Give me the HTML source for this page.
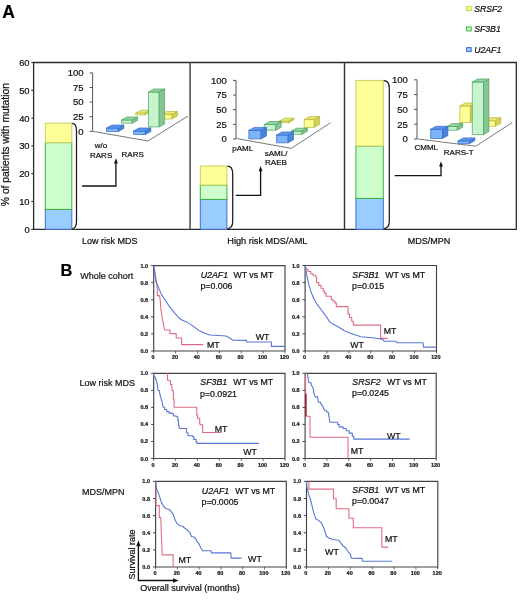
<!DOCTYPE html>
<html><head><meta charset="utf-8"><style>
html,body{margin:0;padding:0;background:#fff;}
svg text{stroke:#111;stroke-width:0.22px;}
svg{display:block;font-family:"Liberation Sans", sans-serif;filter:blur(0.3px);}
</style></head><body>
<svg width="520" height="616" viewBox="0 0 520 616">
<rect width="520" height="616" fill="#fff"/>
<text x="60.4" y="276.2" font-size="16.4" font-weight="bold">B</text>
<text x="80.3" y="279.0" font-size="9" fill="#222">Whole cohort</text>
<text x="79.6" y="385.5" font-size="9" fill="#222">Low risk MDS</text>
<text x="82.0" y="495.0" font-size="9" fill="#222">MDS/MPN</text>
<path d="M153.7 265.6 H285.0 V351.0 H153.7 Z" fill="none" stroke="#444" stroke-width="1.15"/>
<line x1="151.1" y1="351.00" x2="153.7" y2="351.00" stroke="#333" stroke-width="0.9"/>
<text x="148.2" y="353.00" font-size="5.5" font-weight="bold" text-anchor="end" fill="#222">0.0</text>
<line x1="151.1" y1="333.92" x2="153.7" y2="333.92" stroke="#333" stroke-width="0.9"/>
<text x="148.2" y="335.92" font-size="5.5" font-weight="bold" text-anchor="end" fill="#222">0.2</text>
<line x1="151.1" y1="316.84" x2="153.7" y2="316.84" stroke="#333" stroke-width="0.9"/>
<text x="148.2" y="318.84" font-size="5.5" font-weight="bold" text-anchor="end" fill="#222">0.4</text>
<line x1="151.1" y1="299.76" x2="153.7" y2="299.76" stroke="#333" stroke-width="0.9"/>
<text x="148.2" y="301.76" font-size="5.5" font-weight="bold" text-anchor="end" fill="#222">0.6</text>
<line x1="151.1" y1="282.68" x2="153.7" y2="282.68" stroke="#333" stroke-width="0.9"/>
<text x="148.2" y="284.68" font-size="5.5" font-weight="bold" text-anchor="end" fill="#222">0.8</text>
<line x1="151.1" y1="265.60" x2="153.7" y2="265.60" stroke="#333" stroke-width="0.9"/>
<text x="148.2" y="267.60" font-size="5.5" font-weight="bold" text-anchor="end" fill="#222">1.0</text>
<line x1="153.70" y1="351.0" x2="153.70" y2="353.4" stroke="#444" stroke-width="0.8"/>
<text x="153.10" y="358.70" font-size="5.5" font-weight="bold" text-anchor="middle" fill="#222">0</text>
<line x1="175.58" y1="351.0" x2="175.58" y2="353.4" stroke="#444" stroke-width="0.8"/>
<text x="174.98" y="358.70" font-size="5.5" font-weight="bold" text-anchor="middle" fill="#222">20</text>
<line x1="197.47" y1="351.0" x2="197.47" y2="353.4" stroke="#444" stroke-width="0.8"/>
<text x="196.87" y="358.70" font-size="5.5" font-weight="bold" text-anchor="middle" fill="#222">40</text>
<line x1="219.35" y1="351.0" x2="219.35" y2="353.4" stroke="#444" stroke-width="0.8"/>
<text x="218.75" y="358.70" font-size="5.5" font-weight="bold" text-anchor="middle" fill="#222">60</text>
<line x1="241.23" y1="351.0" x2="241.23" y2="353.4" stroke="#444" stroke-width="0.8"/>
<text x="240.63" y="358.70" font-size="5.5" font-weight="bold" text-anchor="middle" fill="#222">80</text>
<line x1="263.12" y1="351.0" x2="263.12" y2="353.4" stroke="#444" stroke-width="0.8"/>
<text x="262.52" y="358.70" font-size="5.5" font-weight="bold" text-anchor="middle" fill="#222">100</text>
<line x1="285.00" y1="351.0" x2="285.00" y2="353.4" stroke="#444" stroke-width="0.8"/>
<text x="284.40" y="358.70" font-size="5.5" font-weight="bold" text-anchor="middle" fill="#222">120</text>
<path d="M154.20 266.50 L156.50 283.00 L157.30 287.60 L157.30 295.60 L159.50 295.60 L160.20 300.00 L161.00 310.20 L162.40 319.00 L163.90 326.30 L164.60 330.00 L170.00 330.00 L170.00 333.60 L176.20 333.60 L176.20 338.00 L181.60 338.00 L181.60 344.60 L203.30 344.60" fill="none" stroke="#e06c84" stroke-width="1.1" stroke-linejoin="round"/>
<path d="M153.70 265.60 L155.80 281.00 L158.80 288.30 L161.70 294.90 L164.60 299.30 L169.00 305.80 L174.10 312.40 L178.50 317.50 L181.40 319.70 L186.50 321.90 L192.40 325.60 L198.20 330.00 L204.10 332.90 L208.50 334.60 L210.40 335.00 L226.00 336.00 L229.40 337.70 L232.90 340.20 L246.30 340.40 L246.50 342.00 L271.40 342.00 L271.40 346.40 L285.00 346.40" fill="none" stroke="#5877d6" stroke-width="1.1" stroke-linejoin="round"/>
<text x="200.7" y="278.0" font-size="8.8" font-style="italic" fill="#111">U2AF1</text>
<text x="233.4" y="278.0" font-size="8.8" fill="#111">WT vs MT</text>
<text x="200.39999999999998" y="288.8" font-size="8.8" fill="#111">p=0.006</text>
<text x="255.7" y="340.2" font-size="8.8" fill="#111">WT</text>
<text x="206.9" y="348.1" font-size="8.8" fill="#111">MT</text>
<path d="M305.1 265.5 H436.5 V351.0 H305.1 Z" fill="none" stroke="#444" stroke-width="1.15"/>
<line x1="302.5" y1="351.00" x2="305.1" y2="351.00" stroke="#333" stroke-width="0.9"/>
<text x="299.6" y="353.00" font-size="5.5" font-weight="bold" text-anchor="end" fill="#222">0.0</text>
<line x1="302.5" y1="333.90" x2="305.1" y2="333.90" stroke="#333" stroke-width="0.9"/>
<text x="299.6" y="335.90" font-size="5.5" font-weight="bold" text-anchor="end" fill="#222">0.2</text>
<line x1="302.5" y1="316.80" x2="305.1" y2="316.80" stroke="#333" stroke-width="0.9"/>
<text x="299.6" y="318.80" font-size="5.5" font-weight="bold" text-anchor="end" fill="#222">0.4</text>
<line x1="302.5" y1="299.70" x2="305.1" y2="299.70" stroke="#333" stroke-width="0.9"/>
<text x="299.6" y="301.70" font-size="5.5" font-weight="bold" text-anchor="end" fill="#222">0.6</text>
<line x1="302.5" y1="282.60" x2="305.1" y2="282.60" stroke="#333" stroke-width="0.9"/>
<text x="299.6" y="284.60" font-size="5.5" font-weight="bold" text-anchor="end" fill="#222">0.8</text>
<line x1="302.5" y1="265.50" x2="305.1" y2="265.50" stroke="#333" stroke-width="0.9"/>
<text x="299.6" y="267.50" font-size="5.5" font-weight="bold" text-anchor="end" fill="#222">1.0</text>
<line x1="305.10" y1="351.0" x2="305.10" y2="353.4" stroke="#444" stroke-width="0.8"/>
<text x="304.50" y="358.70" font-size="5.5" font-weight="bold" text-anchor="middle" fill="#222">0</text>
<line x1="327.00" y1="351.0" x2="327.00" y2="353.4" stroke="#444" stroke-width="0.8"/>
<text x="326.40" y="358.70" font-size="5.5" font-weight="bold" text-anchor="middle" fill="#222">20</text>
<line x1="348.90" y1="351.0" x2="348.90" y2="353.4" stroke="#444" stroke-width="0.8"/>
<text x="348.30" y="358.70" font-size="5.5" font-weight="bold" text-anchor="middle" fill="#222">40</text>
<line x1="370.80" y1="351.0" x2="370.80" y2="353.4" stroke="#444" stroke-width="0.8"/>
<text x="370.20" y="358.70" font-size="5.5" font-weight="bold" text-anchor="middle" fill="#222">60</text>
<line x1="392.70" y1="351.0" x2="392.70" y2="353.4" stroke="#444" stroke-width="0.8"/>
<text x="392.10" y="358.70" font-size="5.5" font-weight="bold" text-anchor="middle" fill="#222">80</text>
<line x1="414.60" y1="351.0" x2="414.60" y2="353.4" stroke="#444" stroke-width="0.8"/>
<text x="414.00" y="358.70" font-size="5.5" font-weight="bold" text-anchor="middle" fill="#222">100</text>
<line x1="436.50" y1="351.0" x2="436.50" y2="353.4" stroke="#444" stroke-width="0.8"/>
<text x="435.90" y="358.70" font-size="5.5" font-weight="bold" text-anchor="middle" fill="#222">120</text>
<path d="M305.30 265.60 L306.40 269.30 L308.00 269.30 L308.00 271.50 L310.80 271.50 L310.80 273.70 L313.00 273.70 L313.00 275.20 L315.90 275.20 L315.90 277.30 L316.60 277.30 L316.60 282.50 L318.80 282.50 L318.80 285.40 L321.00 285.40 L321.00 288.30 L323.20 288.30 L323.20 291.20 L324.70 291.20 L324.70 293.40 L326.10 293.40 L326.10 296.30 L331.20 296.30 L331.20 299.30 L332.70 299.30 L332.70 301.00 L334.90 301.00 L334.90 302.90 L336.30 302.90 L336.30 306.60 L348.00 306.60 L348.00 313.90 L349.50 313.90 L349.50 317.50 L351.70 317.50 L351.70 321.20 L353.30 321.20 L353.30 325.10 L380.60 325.10 L380.60 338.40 L387.50 338.40" fill="none" stroke="#e06c84" stroke-width="1.1" stroke-linejoin="round"/>
<path d="M305.30 265.60 L306.20 272.00 L307.10 276.60 L308.60 283.90 L310.80 291.20 L313.70 298.50 L316.60 303.60 L321.00 309.50 L325.40 315.30 L329.80 321.90 L332.70 324.10 L338.50 327.00 L344.40 330.70 L350.20 333.30 L357.20 335.50 L360.70 336.70 L372.80 337.70 L380.60 339.00 L383.20 339.80 L384.00 341.20 L396.10 341.20 L397.00 342.70 L423.00 342.70 L423.50 347.10 L436.60 347.10" fill="none" stroke="#5877d6" stroke-width="1.1" stroke-linejoin="round"/>
<text x="352.3" y="277.8" font-size="8.8" font-style="italic" fill="#111">SF3B1</text>
<text x="385.2" y="277.8" font-size="8.8" fill="#111">WT vs MT</text>
<text x="352.0" y="288.5" font-size="8.8" fill="#111">p=0.015</text>
<text x="350.2" y="348.2" font-size="8.8" fill="#111">WT</text>
<text x="383.7" y="333.7" font-size="8.8" fill="#111">MT</text>
<path d="M153.7 373.3 H285.0 V458.5 H153.7 Z" fill="none" stroke="#444" stroke-width="1.15"/>
<line x1="151.1" y1="458.50" x2="153.7" y2="458.50" stroke="#333" stroke-width="0.9"/>
<text x="148.2" y="460.50" font-size="5.5" font-weight="bold" text-anchor="end" fill="#222">0.0</text>
<line x1="151.1" y1="441.46" x2="153.7" y2="441.46" stroke="#333" stroke-width="0.9"/>
<text x="148.2" y="443.46" font-size="5.5" font-weight="bold" text-anchor="end" fill="#222">0.2</text>
<line x1="151.1" y1="424.42" x2="153.7" y2="424.42" stroke="#333" stroke-width="0.9"/>
<text x="148.2" y="426.42" font-size="5.5" font-weight="bold" text-anchor="end" fill="#222">0.4</text>
<line x1="151.1" y1="407.38" x2="153.7" y2="407.38" stroke="#333" stroke-width="0.9"/>
<text x="148.2" y="409.38" font-size="5.5" font-weight="bold" text-anchor="end" fill="#222">0.6</text>
<line x1="151.1" y1="390.34" x2="153.7" y2="390.34" stroke="#333" stroke-width="0.9"/>
<text x="148.2" y="392.34" font-size="5.5" font-weight="bold" text-anchor="end" fill="#222">0.8</text>
<line x1="151.1" y1="373.30" x2="153.7" y2="373.30" stroke="#333" stroke-width="0.9"/>
<text x="148.2" y="375.30" font-size="5.5" font-weight="bold" text-anchor="end" fill="#222">1.0</text>
<line x1="153.70" y1="458.5" x2="153.70" y2="460.9" stroke="#444" stroke-width="0.8"/>
<text x="153.10" y="466.80" font-size="5.5" font-weight="bold" text-anchor="middle" fill="#222">0</text>
<line x1="175.58" y1="458.5" x2="175.58" y2="460.9" stroke="#444" stroke-width="0.8"/>
<text x="174.98" y="466.80" font-size="5.5" font-weight="bold" text-anchor="middle" fill="#222">20</text>
<line x1="197.47" y1="458.5" x2="197.47" y2="460.9" stroke="#444" stroke-width="0.8"/>
<text x="196.87" y="466.80" font-size="5.5" font-weight="bold" text-anchor="middle" fill="#222">40</text>
<line x1="219.35" y1="458.5" x2="219.35" y2="460.9" stroke="#444" stroke-width="0.8"/>
<text x="218.75" y="466.80" font-size="5.5" font-weight="bold" text-anchor="middle" fill="#222">60</text>
<line x1="241.23" y1="458.5" x2="241.23" y2="460.9" stroke="#444" stroke-width="0.8"/>
<text x="240.63" y="466.80" font-size="5.5" font-weight="bold" text-anchor="middle" fill="#222">80</text>
<line x1="263.12" y1="458.5" x2="263.12" y2="460.9" stroke="#444" stroke-width="0.8"/>
<text x="262.52" y="466.80" font-size="5.5" font-weight="bold" text-anchor="middle" fill="#222">100</text>
<line x1="285.00" y1="458.5" x2="285.00" y2="460.9" stroke="#444" stroke-width="0.8"/>
<text x="284.40" y="466.80" font-size="5.5" font-weight="bold" text-anchor="middle" fill="#222">120</text>
<path d="M167.50 373.30 L167.50 380.20 L169.70 380.20 L169.70 381.00 L170.50 381.00 L170.50 384.60 L171.90 384.60 L171.90 390.50 L173.40 390.50 L173.40 399.20 L174.10 399.20 L174.10 407.30 L196.80 407.30 L196.80 415.30 L197.50 415.30 L197.50 418.20 L199.70 418.20 L199.70 424.10 L200.40 424.10 L200.40 424.70 L202.60 424.70 L202.60 432.50 L221.60 432.50" fill="none" stroke="#e06c84" stroke-width="1.1" stroke-linejoin="round"/>
<path d="M153.70 373.30 L153.70 375.80 L155.10 377.30 L156.60 381.00 L157.30 384.60 L158.00 390.50 L159.50 390.50 L159.50 391.90 L160.20 395.60 L161.70 400.70 L163.20 407.30 L164.60 407.30 L164.60 409.50 L166.80 409.50 L166.80 411.60 L169.00 411.60 L169.00 413.10 L172.70 413.10 L172.70 413.80 L173.40 413.80 L173.40 416.00 L176.30 416.00 L176.30 416.80 L177.80 416.80 L177.80 420.40 L178.50 420.40 L178.50 425.50 L179.20 425.50 L179.20 428.50 L186.50 428.50 L186.50 432.80 L188.00 432.80 L188.00 435.80 L192.40 435.80 L192.40 436.50 L193.80 436.50 L193.80 439.40 L196.00 439.40 L196.00 441.60 L196.80 441.60 L196.80 443.40 L258.80 443.40" fill="none" stroke="#5877d6" stroke-width="1.1" stroke-linejoin="round"/>
<text x="200.3" y="385.2" font-size="8.8" font-style="italic" fill="#111">SF3B1</text>
<text x="233.2" y="385.2" font-size="8.8" fill="#111">WT vs MT</text>
<text x="200.0" y="396.5" font-size="8.8" fill="#111">p=0.0921</text>
<text x="243.3" y="455.3" font-size="8.8" fill="#111">WT</text>
<text x="214.7" y="432.2" font-size="8.8" fill="#111">MT</text>
<path d="M305.1 373.3 H436.2 V458.5 H305.1 Z" fill="none" stroke="#444" stroke-width="1.15"/>
<line x1="302.5" y1="458.50" x2="305.1" y2="458.50" stroke="#333" stroke-width="0.9"/>
<text x="299.6" y="460.50" font-size="5.5" font-weight="bold" text-anchor="end" fill="#222">0.0</text>
<line x1="302.5" y1="441.46" x2="305.1" y2="441.46" stroke="#333" stroke-width="0.9"/>
<text x="299.6" y="443.46" font-size="5.5" font-weight="bold" text-anchor="end" fill="#222">0.2</text>
<line x1="302.5" y1="424.42" x2="305.1" y2="424.42" stroke="#333" stroke-width="0.9"/>
<text x="299.6" y="426.42" font-size="5.5" font-weight="bold" text-anchor="end" fill="#222">0.4</text>
<line x1="302.5" y1="407.38" x2="305.1" y2="407.38" stroke="#333" stroke-width="0.9"/>
<text x="299.6" y="409.38" font-size="5.5" font-weight="bold" text-anchor="end" fill="#222">0.6</text>
<line x1="302.5" y1="390.34" x2="305.1" y2="390.34" stroke="#333" stroke-width="0.9"/>
<text x="299.6" y="392.34" font-size="5.5" font-weight="bold" text-anchor="end" fill="#222">0.8</text>
<line x1="302.5" y1="373.30" x2="305.1" y2="373.30" stroke="#333" stroke-width="0.9"/>
<text x="299.6" y="375.30" font-size="5.5" font-weight="bold" text-anchor="end" fill="#222">1.0</text>
<line x1="305.10" y1="458.5" x2="305.10" y2="460.9" stroke="#444" stroke-width="0.8"/>
<text x="304.50" y="466.80" font-size="5.5" font-weight="bold" text-anchor="middle" fill="#222">0</text>
<line x1="326.95" y1="458.5" x2="326.95" y2="460.9" stroke="#444" stroke-width="0.8"/>
<text x="326.35" y="466.80" font-size="5.5" font-weight="bold" text-anchor="middle" fill="#222">20</text>
<line x1="348.80" y1="458.5" x2="348.80" y2="460.9" stroke="#444" stroke-width="0.8"/>
<text x="348.20" y="466.80" font-size="5.5" font-weight="bold" text-anchor="middle" fill="#222">40</text>
<line x1="370.65" y1="458.5" x2="370.65" y2="460.9" stroke="#444" stroke-width="0.8"/>
<text x="370.05" y="466.80" font-size="5.5" font-weight="bold" text-anchor="middle" fill="#222">60</text>
<line x1="392.50" y1="458.5" x2="392.50" y2="460.9" stroke="#444" stroke-width="0.8"/>
<text x="391.90" y="466.80" font-size="5.5" font-weight="bold" text-anchor="middle" fill="#222">80</text>
<line x1="414.35" y1="458.5" x2="414.35" y2="460.9" stroke="#444" stroke-width="0.8"/>
<text x="413.75" y="466.80" font-size="5.5" font-weight="bold" text-anchor="middle" fill="#222">100</text>
<line x1="436.20" y1="458.5" x2="436.20" y2="460.9" stroke="#444" stroke-width="0.8"/>
<text x="435.60" y="466.80" font-size="5.5" font-weight="bold" text-anchor="middle" fill="#222">120</text>
<path d="M305.60 373.30 L305.60 416.20 L310.00 416.20 L310.00 437.20 L348.00 437.20 L348.00 458.50" fill="none" stroke="#e06c84" stroke-width="1.1" stroke-linejoin="round"/>
<line x1="305.9" y1="393.8" x2="305.9" y2="416.2" stroke="#8a1020" stroke-width="1.4"/>
<path d="M307.30 373.30 L308.90 382.80 L311.10 382.80 L311.10 384.60 L313.30 388.60 L313.80 393.10 L315.40 396.90 L317.70 396.90 L317.70 398.50 L318.50 402.30 L320.80 402.30 L320.80 403.80 L323.10 406.90 L324.60 410.80 L326.90 410.80 L326.90 412.30 L328.50 412.30 L328.50 413.80 L330.00 422.30 L337.70 422.30 L337.70 424.50 L339.20 424.50 L339.20 426.90 L343.10 426.90 L343.10 428.50 L346.20 428.50 L346.20 430.80 L349.20 430.80 L349.20 433.10 L352.30 433.10 L352.30 436.20 L353.80 436.20 L353.80 439.10 L409.70 439.10" fill="none" stroke="#5877d6" stroke-width="1.1" stroke-linejoin="round"/>
<text x="352.3" y="384.7" font-size="8.8" font-style="italic" fill="#111">SRSF2</text>
<text x="387.0" y="384.7" font-size="8.8" fill="#111">WT vs MT</text>
<text x="352.0" y="396.2" font-size="8.8" fill="#111">p=0.0245</text>
<text x="386.9" y="438.6" font-size="8.8" fill="#111">WT</text>
<text x="350.8" y="454.3" font-size="8.8" fill="#111">MT</text>
<path d="M155.6 481.4 H286.3 V567.0 H155.6 Z" fill="none" stroke="#444" stroke-width="1.15"/>
<line x1="153.0" y1="567.00" x2="155.6" y2="567.00" stroke="#333" stroke-width="0.9"/>
<text x="150.0" y="569.00" font-size="5.5" font-weight="bold" text-anchor="end" fill="#222">0.0</text>
<line x1="153.0" y1="549.88" x2="155.6" y2="549.88" stroke="#333" stroke-width="0.9"/>
<text x="150.0" y="551.88" font-size="5.5" font-weight="bold" text-anchor="end" fill="#222">0.2</text>
<line x1="153.0" y1="532.76" x2="155.6" y2="532.76" stroke="#333" stroke-width="0.9"/>
<text x="150.0" y="534.76" font-size="5.5" font-weight="bold" text-anchor="end" fill="#222">0.4</text>
<line x1="153.0" y1="515.64" x2="155.6" y2="515.64" stroke="#333" stroke-width="0.9"/>
<text x="150.0" y="517.64" font-size="5.5" font-weight="bold" text-anchor="end" fill="#222">0.6</text>
<line x1="153.0" y1="498.52" x2="155.6" y2="498.52" stroke="#333" stroke-width="0.9"/>
<text x="150.0" y="500.52" font-size="5.5" font-weight="bold" text-anchor="end" fill="#222">0.8</text>
<line x1="153.0" y1="481.40" x2="155.6" y2="481.40" stroke="#333" stroke-width="0.9"/>
<text x="150.0" y="483.40" font-size="5.5" font-weight="bold" text-anchor="end" fill="#222">1.0</text>
<line x1="155.60" y1="567.0" x2="155.60" y2="569.4" stroke="#444" stroke-width="0.8"/>
<text x="155.00" y="574.90" font-size="5.5" font-weight="bold" text-anchor="middle" fill="#222">0</text>
<line x1="177.38" y1="567.0" x2="177.38" y2="569.4" stroke="#444" stroke-width="0.8"/>
<text x="176.78" y="574.90" font-size="5.5" font-weight="bold" text-anchor="middle" fill="#222">20</text>
<line x1="199.17" y1="567.0" x2="199.17" y2="569.4" stroke="#444" stroke-width="0.8"/>
<text x="198.57" y="574.90" font-size="5.5" font-weight="bold" text-anchor="middle" fill="#222">40</text>
<line x1="220.95" y1="567.0" x2="220.95" y2="569.4" stroke="#444" stroke-width="0.8"/>
<text x="220.35" y="574.90" font-size="5.5" font-weight="bold" text-anchor="middle" fill="#222">60</text>
<line x1="242.73" y1="567.0" x2="242.73" y2="569.4" stroke="#444" stroke-width="0.8"/>
<text x="242.13" y="574.90" font-size="5.5" font-weight="bold" text-anchor="middle" fill="#222">80</text>
<line x1="264.52" y1="567.0" x2="264.52" y2="569.4" stroke="#444" stroke-width="0.8"/>
<text x="263.92" y="574.90" font-size="5.5" font-weight="bold" text-anchor="middle" fill="#222">100</text>
<line x1="286.30" y1="567.0" x2="286.30" y2="569.4" stroke="#444" stroke-width="0.8"/>
<text x="285.70" y="574.90" font-size="5.5" font-weight="bold" text-anchor="middle" fill="#222">120</text>
<path d="M156.00 481.40 L156.00 505.60 L159.30 505.60 L159.30 517.60 L160.70 517.60 L162.20 554.90 L173.10 554.90 L173.10 567.00" fill="none" stroke="#e06c84" stroke-width="1.1" stroke-linejoin="round"/>
<path d="M155.60 481.30 L155.80 486.00 L156.90 489.50 L158.50 493.40 L160.00 498.00 L161.50 502.60 L163.80 506.50 L166.20 508.80 L169.20 509.50 L170.80 511.10 L173.10 514.20 L174.60 518.80 L176.90 523.40 L180.00 525.70 L183.10 526.50 L185.40 528.80 L187.70 530.30 L190.00 532.60 L191.50 536.50 L194.60 537.20 L196.90 541.10 L199.20 544.20 L200.80 548.00 L202.60 550.80 L211.20 550.80 L211.60 552.90 L230.80 552.90 L231.20 558.10 L241.50 558.10" fill="none" stroke="#5877d6" stroke-width="1.1" stroke-linejoin="round"/>
<text x="201.8" y="494.1" font-size="8.8" font-style="italic" fill="#111">U2AF1</text>
<text x="235.2" y="494.1" font-size="8.8" fill="#111">WT vs MT</text>
<text x="201.5" y="504.8" font-size="8.8" fill="#111">p=0.0005</text>
<text x="248.1" y="562.1" font-size="8.8" fill="#111">WT</text>
<text x="178.5" y="562.6" font-size="8.8" fill="#111">MT</text>
<path d="M306.5 481.4 H437.8 V567.0 H306.5 Z" fill="none" stroke="#444" stroke-width="1.15"/>
<line x1="303.9" y1="567.00" x2="306.5" y2="567.00" stroke="#333" stroke-width="0.9"/>
<text x="301.0" y="569.00" font-size="5.5" font-weight="bold" text-anchor="end" fill="#222">0.0</text>
<line x1="303.9" y1="549.88" x2="306.5" y2="549.88" stroke="#333" stroke-width="0.9"/>
<text x="301.0" y="551.88" font-size="5.5" font-weight="bold" text-anchor="end" fill="#222">0.2</text>
<line x1="303.9" y1="532.76" x2="306.5" y2="532.76" stroke="#333" stroke-width="0.9"/>
<text x="301.0" y="534.76" font-size="5.5" font-weight="bold" text-anchor="end" fill="#222">0.4</text>
<line x1="303.9" y1="515.64" x2="306.5" y2="515.64" stroke="#333" stroke-width="0.9"/>
<text x="301.0" y="517.64" font-size="5.5" font-weight="bold" text-anchor="end" fill="#222">0.6</text>
<line x1="303.9" y1="498.52" x2="306.5" y2="498.52" stroke="#333" stroke-width="0.9"/>
<text x="301.0" y="500.52" font-size="5.5" font-weight="bold" text-anchor="end" fill="#222">0.8</text>
<line x1="303.9" y1="481.40" x2="306.5" y2="481.40" stroke="#333" stroke-width="0.9"/>
<text x="301.0" y="483.40" font-size="5.5" font-weight="bold" text-anchor="end" fill="#222">1.0</text>
<line x1="306.50" y1="567.0" x2="306.50" y2="569.4" stroke="#444" stroke-width="0.8"/>
<text x="305.90" y="574.90" font-size="5.5" font-weight="bold" text-anchor="middle" fill="#222">0</text>
<line x1="328.38" y1="567.0" x2="328.38" y2="569.4" stroke="#444" stroke-width="0.8"/>
<text x="327.78" y="574.90" font-size="5.5" font-weight="bold" text-anchor="middle" fill="#222">20</text>
<line x1="350.27" y1="567.0" x2="350.27" y2="569.4" stroke="#444" stroke-width="0.8"/>
<text x="349.67" y="574.90" font-size="5.5" font-weight="bold" text-anchor="middle" fill="#222">40</text>
<line x1="372.15" y1="567.0" x2="372.15" y2="569.4" stroke="#444" stroke-width="0.8"/>
<text x="371.55" y="574.90" font-size="5.5" font-weight="bold" text-anchor="middle" fill="#222">60</text>
<line x1="394.03" y1="567.0" x2="394.03" y2="569.4" stroke="#444" stroke-width="0.8"/>
<text x="393.43" y="574.90" font-size="5.5" font-weight="bold" text-anchor="middle" fill="#222">80</text>
<line x1="415.92" y1="567.0" x2="415.92" y2="569.4" stroke="#444" stroke-width="0.8"/>
<text x="415.32" y="574.90" font-size="5.5" font-weight="bold" text-anchor="middle" fill="#222">100</text>
<line x1="437.80" y1="567.0" x2="437.80" y2="569.4" stroke="#444" stroke-width="0.8"/>
<text x="437.20" y="574.90" font-size="5.5" font-weight="bold" text-anchor="middle" fill="#222">120</text>
<path d="M308.90 481.40 L308.90 489.10 L333.50 489.10 L333.50 498.80 L336.20 498.80 L336.20 508.80 L348.90 508.80 L348.90 518.30 L353.30 518.30 L353.30 527.70 L381.80 527.70 L381.80 547.10 L388.30 547.10" fill="none" stroke="#e06c84" stroke-width="1.1" stroke-linejoin="round"/>
<path d="M306.50 481.40 L306.90 487.20 L308.90 494.90 L310.50 499.50 L312.00 505.70 L313.50 511.80 L315.80 518.80 L318.20 520.30 L321.20 522.60 L323.50 527.20 L325.10 531.80 L326.60 536.50 L328.90 538.00 L332.80 539.50 L338.90 540.30 L340.50 542.60 L342.80 545.70 L345.80 548.00 L348.20 551.80 L350.50 554.20 L351.20 558.20 L362.00 558.40 L362.60 561.20 L392.20 561.20" fill="none" stroke="#5877d6" stroke-width="1.1" stroke-linejoin="round"/>
<text x="352.3" y="493.2" font-size="8.8" font-style="italic" fill="#111">SF3B1</text>
<text x="385.2" y="493.2" font-size="8.8" fill="#111">WT vs MT</text>
<text x="352.0" y="504.2" font-size="8.8" fill="#111">p=0.0047</text>
<text x="325.1" y="554.6" font-size="8.8" fill="#111">WT</text>
<text x="384.9" y="542.4" font-size="8.8" fill="#111">MT</text>
<path d="M138.4 545 V580.5 H173.5" fill="none" stroke="#111" stroke-width="1.3"/>
<path d="M136.2 546.2 L138.4 540.6 L140.6 546.2 Z" fill="#111"/>
<path d="M173 578.2 L178.6 580.5 L173 582.8 Z" fill="#111"/>
<text transform="translate(134.8 554.4) rotate(-90)" font-size="9" text-anchor="middle" fill="#111">Survival rate</text>
<text x="140.3" y="591.3" font-size="9" fill="#111">Overall survival (months)</text>
<text x="2.3" y="17.6" font-size="17.5" font-weight="bold">A</text>
<rect x="466.6" y="6.6" width="4.6" height="4.0" fill="#ffff99" stroke="#c8d23c" stroke-width="1"/>
<text x="474.2" y="11.7" font-size="8.7" font-style="italic" fill="#111">SRSF2</text>
<rect x="466.6" y="26.900000000000002" width="4.6" height="4.0" fill="#ccffcc" stroke="#3cb43c" stroke-width="1"/>
<text x="474.2" y="32.0" font-size="8.7" font-style="italic" fill="#111">SF3B1</text>
<rect x="466.6" y="47.599999999999994" width="4.6" height="4.0" fill="#99ccff" stroke="#3c6ed2" stroke-width="1"/>
<text x="474.2" y="52.5" font-size="8.7" font-style="italic" fill="#111">U2AF1</text>
<path d="M33.6 62.5 H516.3 V229.3 H33.6 Z" fill="none" stroke="#2a2a2a" stroke-width="1.3"/>
<line x1="190.1" y1="62.5" x2="190.1" y2="229.3" stroke="#555" stroke-width="1.6"/>
<line x1="344.5" y1="62.5" x2="344.5" y2="229.3" stroke="#333" stroke-width="1.4"/>
<line x1="31.3" y1="229.30" x2="33.6" y2="229.30" stroke="#2a2a2a" stroke-width="1.1"/>
<text x="29.6" y="232.70" font-size="9.4" text-anchor="end" fill="#111">0</text>
<line x1="31.3" y1="201.50" x2="33.6" y2="201.50" stroke="#2a2a2a" stroke-width="1.1"/>
<text x="29.6" y="204.90" font-size="9.4" text-anchor="end" fill="#111">10</text>
<line x1="31.3" y1="173.70" x2="33.6" y2="173.70" stroke="#2a2a2a" stroke-width="1.1"/>
<text x="29.6" y="177.10" font-size="9.4" text-anchor="end" fill="#111">20</text>
<line x1="31.3" y1="145.90" x2="33.6" y2="145.90" stroke="#2a2a2a" stroke-width="1.1"/>
<text x="29.6" y="149.30" font-size="9.4" text-anchor="end" fill="#111">30</text>
<line x1="31.3" y1="118.10" x2="33.6" y2="118.10" stroke="#2a2a2a" stroke-width="1.1"/>
<text x="29.6" y="121.50" font-size="9.4" text-anchor="end" fill="#111">40</text>
<line x1="31.3" y1="90.30" x2="33.6" y2="90.30" stroke="#2a2a2a" stroke-width="1.1"/>
<text x="29.6" y="93.70" font-size="9.4" text-anchor="end" fill="#111">50</text>
<line x1="31.3" y1="62.50" x2="33.6" y2="62.50" stroke="#2a2a2a" stroke-width="1.1"/>
<text x="29.6" y="65.90" font-size="9.4" text-anchor="end" fill="#111">60</text>
<text transform="translate(9.4 144.6) rotate(-90)" font-size="10.3" text-anchor="middle" fill="#111">% of patients with mutation</text>
<text x="82.0" y="243.6" font-size="9" fill="#111">Low risk MDS</text>
<text x="227.3" y="243.7" font-size="9.2" fill="#111">High risk MDS/AML</text>
<text x="407.7" y="243.7" font-size="9" fill="#111">MDS/MPN</text>
<rect x="45.3" y="209.4" width="26.5" height="19.900000000000006" fill="#99ccff" stroke="#3f6fcf" stroke-width="1"/>
<rect x="45.3" y="142.6" width="26.5" height="66.80000000000001" fill="#ccffcc" stroke="#40b040" stroke-width="1"/>
<rect x="45.3" y="123.2" width="26.5" height="19.39999999999999" fill="#ffff99" stroke="#c8d060" stroke-width="1"/>
<path d="M72.3 123.4 C75.325 123.4 76.5 126.2 76.5 131.2 V221.3 C76.5 226.3 75.09 228.5 72.3 228.5" fill="none" stroke="#1a1a1a" stroke-width="1.25"/>
<rect x="200.3" y="199.4" width="26.599999999999994" height="29.900000000000006" fill="#99ccff" stroke="#3f6fcf" stroke-width="1"/>
<rect x="200.3" y="185.0" width="26.599999999999994" height="14.400000000000006" fill="#ccffcc" stroke="#40b040" stroke-width="1"/>
<rect x="200.3" y="166.0" width="26.599999999999994" height="19.0" fill="#ffff99" stroke="#c8d060" stroke-width="1"/>
<path d="M227.4 166.2 C231.25 166.2 232.70000000000002 169.0 232.70000000000002 174.0 V221.3 C232.70000000000002 226.3 230.96 228.5 227.4 228.5" fill="none" stroke="#1a1a1a" stroke-width="1.25"/>
<rect x="355.9" y="198.4" width="27.400000000000034" height="30.900000000000006" fill="#99ccff" stroke="#3f6fcf" stroke-width="1"/>
<rect x="355.9" y="146.0" width="27.400000000000034" height="52.400000000000006" fill="#ccffcc" stroke="#40b040" stroke-width="1"/>
<rect x="355.9" y="80.4" width="27.400000000000034" height="65.6" fill="#ffff99" stroke="#c8d060" stroke-width="1"/>
<path d="M383.8 80.60000000000001 C387.8 80.60000000000001 389.3 83.4 389.3 88.4 V221.3 C389.3 226.3 387.5 228.5 383.8 228.5" fill="none" stroke="#1a1a1a" stroke-width="1.25"/>
<path d="M82.1 186.0 H115.9 V162.8" fill="none" stroke="#111" stroke-width="1.3"/>
<path d="M114.0 163.5 L115.9 158.3 L117.80000000000001 163.5 Z" fill="#111"/>
<path d="M235.8 195.3 H260.6 V170.5" fill="none" stroke="#111" stroke-width="1.3"/>
<path d="M258.70000000000005 171.2 L260.6 166.0 L262.5 171.2 Z" fill="#111"/>
<path d="M394.6 175.6 H441.0 V165.8" fill="none" stroke="#111" stroke-width="1.3"/>
<path d="M439.1 166.5 L441.0 161.3 L442.9 166.5 Z" fill="#111"/>
<line x1="92.6" y1="72.9" x2="92.6" y2="131.3" stroke="#444" stroke-width="0.9"/>
<line x1="89.6" y1="131.30" x2="92.6" y2="131.30" stroke="#444" stroke-width="0.9"/>
<text x="83.5" y="134.60" font-size="9.5" text-anchor="end" fill="#111">0</text>
<line x1="89.6" y1="116.70" x2="92.6" y2="116.70" stroke="#444" stroke-width="0.9"/>
<text x="83.5" y="120.00" font-size="9.5" text-anchor="end" fill="#111">25</text>
<line x1="89.6" y1="102.10" x2="92.6" y2="102.10" stroke="#444" stroke-width="0.9"/>
<text x="83.5" y="105.40" font-size="9.5" text-anchor="end" fill="#111">50</text>
<line x1="89.6" y1="87.50" x2="92.6" y2="87.50" stroke="#444" stroke-width="0.9"/>
<text x="83.5" y="90.80" font-size="9.5" text-anchor="end" fill="#111">75</text>
<line x1="89.6" y1="72.90" x2="92.6" y2="72.90" stroke="#444" stroke-width="0.9"/>
<text x="83.5" y="76.20" font-size="9.5" text-anchor="end" fill="#111">100</text>
<path d="M92.60 131.30 L148.00 141.00 L188.00 116.00" fill="none" stroke="#6a6a6a" stroke-width="0.9"/>
<path d="M135.70 115.00 L144.70 115.00 L144.70 113.20 L135.70 113.20 Z" fill="#ffff96" stroke="#b4b43c" stroke-width="0.7" stroke-linejoin="round"/>
<path d="M144.70 115.00 L150.10 112.00 L150.10 110.20 L144.70 113.20 Z" fill="#d2d24e" stroke="#b4b43c" stroke-width="0.7" stroke-linejoin="round"/>
<path d="M135.70 113.20 L144.70 113.20 L150.10 110.20 L141.10 110.20 Z" fill="#e8e870" stroke="#b4b43c" stroke-width="0.7" stroke-linejoin="round"/>
<path d="M161.50 119.00 L172.00 119.00 L172.00 114.50 L161.50 114.50 Z" fill="#ffff96" stroke="#b4b43c" stroke-width="0.7" stroke-linejoin="round"/>
<path d="M172.00 119.00 L177.40 116.00 L177.40 111.50 L172.00 114.50 Z" fill="#d2d24e" stroke="#b4b43c" stroke-width="0.7" stroke-linejoin="round"/>
<path d="M161.50 114.50 L172.00 114.50 L177.40 111.50 L166.90 111.50 Z" fill="#e8e870" stroke="#b4b43c" stroke-width="0.7" stroke-linejoin="round"/>
<path d="M121.50 123.20 L132.30 123.20 L132.30 120.00 L121.50 120.00 Z" fill="#c6f4cc" stroke="#4f9e62" stroke-width="0.7" stroke-linejoin="round"/>
<path d="M132.30 123.20 L137.70 120.20 L137.70 117.00 L132.30 120.00 Z" fill="#86c694" stroke="#4f9e62" stroke-width="0.7" stroke-linejoin="round"/>
<path d="M121.50 120.00 L132.30 120.00 L137.70 117.00 L126.90 117.00 Z" fill="#8ed6a2" stroke="#4f9e62" stroke-width="0.7" stroke-linejoin="round"/>
<path d="M148.50 126.90 L159.20 126.90 L159.20 92.00 L148.50 92.00 Z" fill="#c6f4cc" stroke="#4f9e62" stroke-width="0.7" stroke-linejoin="round"/>
<path d="M159.20 126.90 L164.60 123.90 L164.60 89.00 L159.20 92.00 Z" fill="#86c694" stroke="#4f9e62" stroke-width="0.7" stroke-linejoin="round"/>
<path d="M148.50 92.00 L159.20 92.00 L164.60 89.00 L153.90 89.00 Z" fill="#8ed6a2" stroke="#4f9e62" stroke-width="0.7" stroke-linejoin="round"/>
<path d="M106.50 131.50 L118.40 131.50 L118.40 128.10 L106.50 128.10 Z" fill="#7cb6f8" stroke="#3468cc" stroke-width="0.7" stroke-linejoin="round"/>
<path d="M118.40 131.50 L123.80 128.50 L123.80 125.10 L118.40 128.10 Z" fill="#4a82dc" stroke="#3468cc" stroke-width="0.7" stroke-linejoin="round"/>
<path d="M106.50 128.10 L118.40 128.10 L123.80 125.10 L111.90 125.10 Z" fill="#5c98ec" stroke="#3468cc" stroke-width="0.7" stroke-linejoin="round"/>
<path d="M133.50 134.50 L145.40 134.50 L145.40 131.00 L133.50 131.00 Z" fill="#7cb6f8" stroke="#3468cc" stroke-width="0.7" stroke-linejoin="round"/>
<path d="M145.40 134.50 L150.80 131.50 L150.80 128.00 L145.40 131.00 Z" fill="#4a82dc" stroke="#3468cc" stroke-width="0.7" stroke-linejoin="round"/>
<path d="M133.50 131.00 L145.40 131.00 L150.80 128.00 L138.90 128.00 Z" fill="#5c98ec" stroke="#3468cc" stroke-width="0.7" stroke-linejoin="round"/>
<text x="94.8" y="147.9" font-size="8" fill="#111">w/o</text>
<text x="90.0" y="157.5" font-size="8" fill="#111">RARS</text>
<text x="121.6" y="156.5" font-size="8" fill="#111">RARS</text>
<line x1="236.0" y1="80.4" x2="236.0" y2="139.0" stroke="#444" stroke-width="0.9"/>
<line x1="233.0" y1="139.00" x2="236.0" y2="139.00" stroke="#444" stroke-width="0.9"/>
<text x="226.9" y="142.30" font-size="9.5" text-anchor="end" fill="#111">0</text>
<line x1="233.0" y1="124.35" x2="236.0" y2="124.35" stroke="#444" stroke-width="0.9"/>
<text x="226.9" y="127.65" font-size="9.5" text-anchor="end" fill="#111">25</text>
<line x1="233.0" y1="109.70" x2="236.0" y2="109.70" stroke="#444" stroke-width="0.9"/>
<text x="226.9" y="113.00" font-size="9.5" text-anchor="end" fill="#111">50</text>
<line x1="233.0" y1="95.05" x2="236.0" y2="95.05" stroke="#444" stroke-width="0.9"/>
<text x="226.9" y="98.35" font-size="9.5" text-anchor="end" fill="#111">75</text>
<line x1="233.0" y1="80.40" x2="236.0" y2="80.40" stroke="#444" stroke-width="0.9"/>
<text x="226.9" y="83.70" font-size="9.5" text-anchor="end" fill="#111">100</text>
<path d="M236.50 138.50 L291.30 148.40 L330.50 122.80" fill="none" stroke="#6a6a6a" stroke-width="0.9"/>
<path d="M279.20 122.80 L288.50 122.80 L288.50 121.20 L279.20 121.20 Z" fill="#ffff96" stroke="#b4b43c" stroke-width="0.7" stroke-linejoin="round"/>
<path d="M288.50 122.80 L293.90 119.80 L293.90 118.20 L288.50 121.20 Z" fill="#d2d24e" stroke="#b4b43c" stroke-width="0.7" stroke-linejoin="round"/>
<path d="M279.20 121.20 L288.50 121.20 L293.90 118.20 L284.60 118.20 Z" fill="#e8e870" stroke="#b4b43c" stroke-width="0.7" stroke-linejoin="round"/>
<path d="M304.20 127.40 L314.20 127.40 L314.20 119.60 L304.20 119.60 Z" fill="#ffff96" stroke="#b4b43c" stroke-width="0.7" stroke-linejoin="round"/>
<path d="M314.20 127.40 L319.60 124.40 L319.60 116.60 L314.20 119.60 Z" fill="#d2d24e" stroke="#b4b43c" stroke-width="0.7" stroke-linejoin="round"/>
<path d="M304.20 119.60 L314.20 119.60 L319.60 116.60 L309.60 116.60 Z" fill="#e8e870" stroke="#b4b43c" stroke-width="0.7" stroke-linejoin="round"/>
<path d="M264.20 130.20 L275.80 130.20 L275.80 124.50 L264.20 124.50 Z" fill="#c6f4cc" stroke="#4f9e62" stroke-width="0.7" stroke-linejoin="round"/>
<path d="M275.80 130.20 L281.20 127.20 L281.20 121.50 L275.80 124.50 Z" fill="#86c694" stroke="#4f9e62" stroke-width="0.7" stroke-linejoin="round"/>
<path d="M264.20 124.50 L275.80 124.50 L281.20 121.50 L269.60 121.50 Z" fill="#8ed6a2" stroke="#4f9e62" stroke-width="0.7" stroke-linejoin="round"/>
<path d="M291.20 134.30 L301.90 134.30 L301.90 131.20 L291.20 131.20 Z" fill="#c6f4cc" stroke="#4f9e62" stroke-width="0.7" stroke-linejoin="round"/>
<path d="M301.90 134.30 L307.30 131.30 L307.30 128.20 L301.90 131.20 Z" fill="#86c694" stroke="#4f9e62" stroke-width="0.7" stroke-linejoin="round"/>
<path d="M291.20 131.20 L301.90 131.20 L307.30 128.20 L296.60 128.20 Z" fill="#8ed6a2" stroke="#4f9e62" stroke-width="0.7" stroke-linejoin="round"/>
<path d="M248.80 138.90 L261.10 138.90 L261.10 130.40 L248.80 130.40 Z" fill="#7cb6f8" stroke="#3468cc" stroke-width="0.7" stroke-linejoin="round"/>
<path d="M261.10 138.90 L266.50 135.90 L266.50 127.40 L261.10 130.40 Z" fill="#4a82dc" stroke="#3468cc" stroke-width="0.7" stroke-linejoin="round"/>
<path d="M248.80 130.40 L261.10 130.40 L266.50 127.40 L254.20 127.40 Z" fill="#5c98ec" stroke="#3468cc" stroke-width="0.7" stroke-linejoin="round"/>
<path d="M276.50 142.80 L288.10 142.80 L288.10 135.00 L276.50 135.00 Z" fill="#7cb6f8" stroke="#3468cc" stroke-width="0.7" stroke-linejoin="round"/>
<path d="M288.10 142.80 L293.50 139.80 L293.50 132.00 L288.10 135.00 Z" fill="#4a82dc" stroke="#3468cc" stroke-width="0.7" stroke-linejoin="round"/>
<path d="M276.50 135.00 L288.10 135.00 L293.50 132.00 L281.90 132.00 Z" fill="#5c98ec" stroke="#3468cc" stroke-width="0.7" stroke-linejoin="round"/>
<text x="232.2" y="150.6" font-size="8" fill="#111">pAML</text>
<text x="264.7" y="156.0" font-size="8" fill="#111">sAML/</text>
<text x="265.1" y="165.3" font-size="8" fill="#111">RAEB</text>
<line x1="417.0" y1="79.8" x2="417.0" y2="139.0" stroke="#444" stroke-width="0.9"/>
<line x1="414.0" y1="139.00" x2="417.0" y2="139.00" stroke="#444" stroke-width="0.9"/>
<text x="407.9" y="142.30" font-size="9.5" text-anchor="end" fill="#111">0</text>
<line x1="414.0" y1="124.20" x2="417.0" y2="124.20" stroke="#444" stroke-width="0.9"/>
<text x="407.9" y="127.50" font-size="9.5" text-anchor="end" fill="#111">25</text>
<line x1="414.0" y1="109.40" x2="417.0" y2="109.40" stroke="#444" stroke-width="0.9"/>
<text x="407.9" y="112.70" font-size="9.5" text-anchor="end" fill="#111">50</text>
<line x1="414.0" y1="94.60" x2="417.0" y2="94.60" stroke="#444" stroke-width="0.9"/>
<text x="407.9" y="97.90" font-size="9.5" text-anchor="end" fill="#111">75</text>
<line x1="414.0" y1="79.80" x2="417.0" y2="79.80" stroke="#444" stroke-width="0.9"/>
<text x="407.9" y="83.10" font-size="9.5" text-anchor="end" fill="#111">100</text>
<path d="M417.50 139.00 L475.80 146.20 L512.30 122.50" fill="none" stroke="#6a6a6a" stroke-width="0.9"/>
<path d="M459.80 122.50 L470.40 122.50 L470.40 106.00 L459.80 106.00 Z" fill="#ffff96" stroke="#b4b43c" stroke-width="0.7" stroke-linejoin="round"/>
<path d="M470.40 122.50 L475.80 119.50 L475.80 103.00 L470.40 106.00 Z" fill="#d2d24e" stroke="#b4b43c" stroke-width="0.7" stroke-linejoin="round"/>
<path d="M459.80 106.00 L470.40 106.00 L475.80 103.00 L465.20 103.00 Z" fill="#e8e870" stroke="#b4b43c" stroke-width="0.7" stroke-linejoin="round"/>
<path d="M484.00 126.30 L495.40 126.30 L495.40 120.70 L484.00 120.70 Z" fill="#ffff96" stroke="#b4b43c" stroke-width="0.7" stroke-linejoin="round"/>
<path d="M495.40 126.30 L500.80 123.30 L500.80 117.70 L495.40 120.70 Z" fill="#d2d24e" stroke="#b4b43c" stroke-width="0.7" stroke-linejoin="round"/>
<path d="M484.00 120.70 L495.40 120.70 L500.80 117.70 L489.40 117.70 Z" fill="#e8e870" stroke="#b4b43c" stroke-width="0.7" stroke-linejoin="round"/>
<path d="M447.00 130.20 L457.30 130.20 L457.30 126.50 L447.00 126.50 Z" fill="#c6f4cc" stroke="#4f9e62" stroke-width="0.7" stroke-linejoin="round"/>
<path d="M457.30 130.20 L462.70 127.20 L462.70 123.50 L457.30 126.50 Z" fill="#86c694" stroke="#4f9e62" stroke-width="0.7" stroke-linejoin="round"/>
<path d="M447.00 126.50 L457.30 126.50 L462.70 123.50 L452.40 123.50 Z" fill="#8ed6a2" stroke="#4f9e62" stroke-width="0.7" stroke-linejoin="round"/>
<path d="M472.30 134.60 L483.50 134.60 L483.50 82.00 L472.30 82.00 Z" fill="#c6f4cc" stroke="#4f9e62" stroke-width="0.7" stroke-linejoin="round"/>
<path d="M483.50 134.60 L488.90 131.60 L488.90 79.00 L483.50 82.00 Z" fill="#86c694" stroke="#4f9e62" stroke-width="0.7" stroke-linejoin="round"/>
<path d="M472.30 82.00 L483.50 82.00 L488.90 79.00 L477.70 79.00 Z" fill="#8ed6a2" stroke="#4f9e62" stroke-width="0.7" stroke-linejoin="round"/>
<path d="M430.60 138.50 L442.50 138.50 L442.50 129.30 L430.60 129.30 Z" fill="#7cb6f8" stroke="#3468cc" stroke-width="0.7" stroke-linejoin="round"/>
<path d="M442.50 138.50 L447.90 135.50 L447.90 126.30 L442.50 129.30 Z" fill="#4a82dc" stroke="#3468cc" stroke-width="0.7" stroke-linejoin="round"/>
<path d="M430.60 129.30 L442.50 129.30 L447.90 126.30 L436.00 126.30 Z" fill="#5c98ec" stroke="#3468cc" stroke-width="0.7" stroke-linejoin="round"/>
<path d="M458.00 143.70 L469.40 143.70 L469.40 140.90 L458.00 140.90 Z" fill="#7cb6f8" stroke="#3468cc" stroke-width="0.7" stroke-linejoin="round"/>
<path d="M469.40 143.70 L474.80 140.70 L474.80 137.90 L469.40 140.90 Z" fill="#4a82dc" stroke="#3468cc" stroke-width="0.7" stroke-linejoin="round"/>
<path d="M458.00 140.90 L469.40 140.90 L474.80 137.90 L463.40 137.90 Z" fill="#5c98ec" stroke="#3468cc" stroke-width="0.7" stroke-linejoin="round"/>
<text x="414.5" y="150.3" font-size="8" fill="#111">CMML</text>
<text x="443.8" y="155.4" font-size="8" fill="#111">RARS-T</text>
</svg></body></html>
